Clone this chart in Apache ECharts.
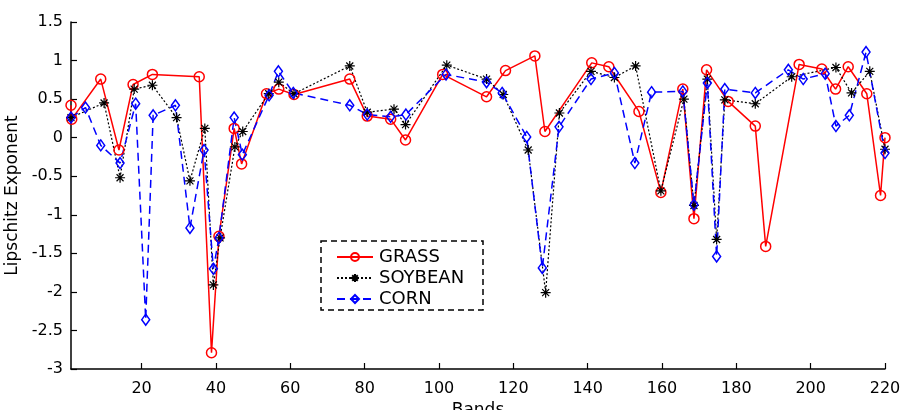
<!DOCTYPE html>
<html>
<head>
<meta charset="utf-8">
<script src="https://cdn.jsdelivr.net/npm/echarts@6/dist/echarts.min.js"></script>
<style>html,body{margin:0;padding:0;background:#fff;}#c{width:901px;height:410px;}</style>
</head>
<body>
<div id="c"></div>
<script>
var grassX = [1, 1.2, 9, 13.9, 17.7, 22.9, 35.5, 38.8, 40.8, 44.9, 46.9, 53.6, 56.9, 61, 76, 80.7, 87, 91, 101, 112.8, 117.9, 125.8, 128.5, 141.1, 145.7, 153.8, 159.7, 165.6, 168.6, 172, 177.8, 185.1, 187.9, 196.9, 203, 206.7, 210.1, 215.1, 218.8, 220];
var grassY = [0.42, 0.24, 0.76, -0.16, 0.69, 0.82, 0.79, -2.79, -1.28, 0.12, -0.34, 0.57, 0.63, 0.56, 0.76, 0.28, 0.24, -0.03, 0.82, 0.53, 0.87, 1.06, 0.08, 0.97, 0.92, 0.34, -0.71, 0.63, -1.05, 0.88, 0.47, 0.15, -1.41, 0.95, 0.89, 0.63, 0.92, 0.57, -0.75, 0.0];
var soyX = [1, 9.9, 14.2, 18, 22.9, 29.4, 33, 37, 39.3, 41.1, 45.1, 47.2, 54.2, 56.9, 61, 76, 80.7, 87.9, 91, 102.1, 112.8, 117.3, 124, 128.7, 132.4, 140.9, 147.2, 152.9, 159.7, 165.9, 168.6, 172.2, 174.7, 176.9, 185.1, 194.9, 206.8, 211, 215.9, 220];
var soyY = [0.26, 0.45, -0.52, 0.63, 0.68, 0.26, -0.56, 0.12, -1.91, -1.30, -0.12, 0.08, 0.57, 0.72, 0.57, 0.93, 0.33, 0.37, 0.17, 0.94, 0.76, 0.56, -0.16, -2.01, 0.32, 0.86, 0.78, 0.93, -0.69, 0.50, -0.88, 0.76, -1.32, 0.49, 0.44, 0.79, 0.91, 0.58, 0.86, -0.15];
var cornX = [1, 4.9, 9, 14.2, 18.4, 21.1, 23.1, 29.1, 33, 36.8, 39.3, 40.8, 44.9, 47.1, 54.3, 56.8, 60.8, 76, 80.7, 87, 91.1, 101.9, 112.8, 117, 123.6, 127.8, 132.3, 140.9, 147.2, 152.7, 157.2, 165.6, 168.6, 172.2, 174.7, 176.9, 185.1, 194, 198, 203.9, 206.8, 210.4, 214.9, 220];
var cornY = [0.26, 0.39, -0.10, -0.33, 0.44, -2.36, 0.29, 0.42, -1.17, -0.16, -1.70, -1.30, 0.26, -0.22, 0.55, 0.86, 0.58, 0.42, 0.30, 0.27, 0.30, 0.82, 0.72, 0.58, 0.01, -1.69, 0.14, 0.76, 0.84, -0.33, 0.59, 0.60, -0.87, 0.71, -1.54, 0.63, 0.58, 0.88, 0.76, 0.83, 0.15, 0.29, 1.11, -0.20];
var xTicks = [20, 40, 60, 80, 100, 120, 140, 160, 180, 200, 220];
var seriesNames = ['GRASS', 'SOYBEAN', 'CORN'];

function pairs(xs, ys) { return xs.map(function (x, i) { return [x, ys[i]]; }); }

var FONT = 'DejaVu Sans';
var chart = echarts.init(document.getElementById('c'), null, { renderer: 'canvas' });
var star = 'path://M5,0L5,10M0,5L10,5M1.5,1.5L8.5,8.5M1.5,8.5L8.5,1.5';

chart.setOption({
  animation: false,
  backgroundColor: '#fff',
  grid: { left: 71, right: 16, top: 22, bottom: 41, containLabel: false, outerBoundsMode: 'none' },
  xAxis: {
    type: 'value', min: 1, max: 220,
    name: 'Bands', nameLocation: 'middle', nameGap: 26,
    nameTextStyle: { fontFamily: FONT, fontSize: 17, color: '#000' },
    axisLine: { show: true, onZero: false, lineStyle: { color: '#000', width: 1.5 } },
    axisTick: { show: true, inside: true, length: 6, customValues: xTicks, lineStyle: { color: '#000', width: 1.2 } },
    axisLabel: { customValues: xTicks, fontFamily: FONT, fontSize: 16, color: '#000', margin: 12 },
    splitLine: { show: false }
  },
  yAxis: {
    type: 'value', min: -3, max: 1.5, interval: 0.5,
    name: 'Lipschitz Exponent', nameLocation: 'middle', nameGap: 47, nameRotate: 90,
    nameTextStyle: { fontFamily: FONT, fontSize: 17, color: '#000' },
    axisLine: { show: true, onZero: false, lineStyle: { color: '#000', width: 1.5 } },
    axisTick: { show: true, inside: true, length: 6, lineStyle: { color: '#000', width: 1.2 } },
    axisLabel: { fontFamily: FONT, fontSize: 16, color: '#000', margin: 8 },
    splitLine: { show: false }
  },
  legend: {
    orient: 'vertical', left: 331, top: 243,
    itemWidth: 36, itemHeight: 10, itemGap: 3,
    textStyle: { fontFamily: FONT, fontSize: 18, color: '#000', padding: [0, 0, 0, 1] },
    data: seriesNames,
    z: 5
  },
  graphic: [{
    type: 'rect', z: 4,
    shape: { x: 321, y: 241, width: 162, height: 69 },
    style: { fill: '#fff', stroke: '#000', lineWidth: 1.5, lineDash: [6, 4] }
  }],
  series: [
    {
      name: seriesNames[0], type: 'line', data: pairs(grassX, grassY),
      symbol: 'circle', symbolSize: 10,
      itemStyle: { color: 'rgba(255,255,255,0)', borderColor: '#ff0000', borderWidth: 1.5 },
      lineStyle: { color: '#ff0000', width: 1.5, type: 'solid' }
    },
    {
      name: seriesNames[1], type: 'line', data: pairs(soyX, soyY),
      symbol: star, symbolSize: 10,
      itemStyle: { color: 'rgba(0,0,0,0)', borderColor: '#000', borderWidth: 1.2 },
      lineStyle: { color: '#000', width: 1.2, type: [2, 2] }
    },
    {
      name: seriesNames[2], type: 'line', data: pairs(cornX, cornY),
      symbol: 'diamond', symbolSize: [8, 11],
      itemStyle: { color: 'rgba(255,255,255,0)', borderColor: '#0000ff', borderWidth: 1.5 },
      lineStyle: { color: '#0000ff', width: 1.5, type: [8, 5] }
    }
  ]
});
</script>
</body>
</html>
